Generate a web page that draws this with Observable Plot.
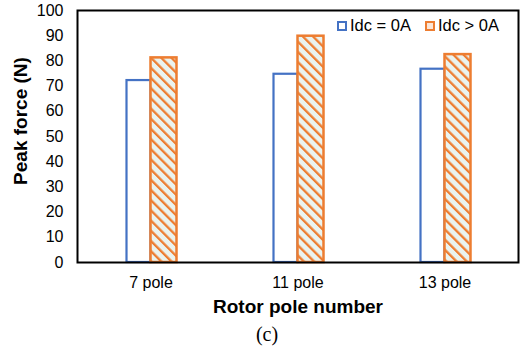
<!DOCTYPE html>
<html>
<head>
<meta charset="utf-8">
<script src="https://cdn.jsdelivr.net/npm/d3@7"></script>
<script src="https://cdn.jsdelivr.net/npm/@observablehq/plot@0.6"></script>
<style>
  html, body { margin: 0; padding: 0; background: #fff; }
  #wrap { position: relative; width: 524px; height: 346px; font-family: "Liberation Sans", Arial, sans-serif; }
  #legend { position: absolute; top: 16px; left: 337px; display: flex; align-items: center; font-size: 16.5px; color: #000; white-space: nowrap; }
  #legend .item { display: flex; align-items: center; margin-right: 14px; }
  #legend .sw { flex: none; box-sizing: border-box; width: 10px; height: 10px; margin-right: 3px; }
  #ylabel { position: absolute; left: 21px; top: 121px; transform: translate(-50%, -50%) rotate(-90deg); font-weight: bold; font-size: 19px; white-space: nowrap; color: #000; }
  #caption { position: absolute; top: 323px; left: 0; width: 534px; text-align: center; font-family: "Liberation Serif", "Times New Roman", serif; font-size: 20px; }
  svg text { fill: #000; }
  g[aria-label="x-axis label"] text { font-weight: bold; font-size: 19px; }
</style>
</head>
<body>
<div id="wrap">
  <div id="chart"></div>
  <div id="ylabel"></div>
  <div id="legend"></div>
  <div id="caption">(c)</div>
</div>
<script>
const categories = ["7 pole", "11 pole", "13 pole"];
const seriesNames = ["Idc = 0A", "Idc > 0A"];
const idcZero = [72.2, 74.7, 76.7];
const idcPositive = [81.2, 89.8, 82.5];
const yTicks = [0, 10, 20, 30, 40, 50, 60, 70, 80, 90, 100];
const xTitle = "Rotor pole number";
const yTitle = "Peak force (N)";

const blue = "#4472C4";
const orange = "#ED7D31";

const zeroData = categories.map((c, i) => ({pole: c, value: idcZero[i]}));
const posData = categories.map((c, i) => ({pole: c, value: idcPositive[i]}));

const chart = Plot.plot({
  width: 524,
  height: 320,
  marginTop: 10,
  marginBottom: 58,
  marginLeft: 77,
  marginRight: 6,
  style: {fontFamily: "'Liberation Sans', Arial, sans-serif", fontSize: "16px", background: "#fff"},
  x: {domain: categories, padding: 0, label: xTitle, labelAnchor: "center", labelOffset: 50, tickSize: 0, tickPadding: 14},
  y: {domain: [0, 100], ticks: yTicks, label: null, tickSize: 0, tickPadding: 14},
  marks: [
    Plot.barY(zeroData, {x: "pole", y: "value", fill: "white", stroke: blue, strokeWidth: 2.2, insetLeft: 49.5, insetRight: 73.5}),
    Plot.barY(posData, {x: "pole", y: "value", fill: "url(#hatch)", stroke: orange, strokeWidth: 2.5, insetLeft: 73.5, insetRight: 47.5}),
    Plot.frame({stroke: "#000", strokeWidth: 2})
  ]
});

// strip any arrow Plot may append to the axis label
chart.querySelectorAll('g[aria-label="x-axis label"] text').forEach(t => { t.textContent = xTitle; });

// hatch pattern
const svgNS = "http://www.w3.org/2000/svg";
const defs = document.createElementNS(svgNS, "defs");
defs.innerHTML = `
  <pattern id="hatch" patternUnits="userSpaceOnUse" width="7.2" height="7.2" patternTransform="rotate(-45)">
    <rect width="7.2" height="7.2" fill="#eaf3ef"></rect>
    <rect x="0" y="0" width="2.3" height="7.2" fill="${orange}"></rect>
  </pattern>`;
chart.insertBefore(defs, chart.firstChild);
document.getElementById("chart").appendChild(chart);
document.getElementById("ylabel").textContent = yTitle;

// legend
const legend = document.getElementById("legend");
const colors = [blue, orange];
seriesNames.forEach((name, i) => {
  const item = document.createElement("div");
  item.className = "item";
  const sw = document.createElement("div");
  sw.className = "sw";
  sw.style.border = `2px solid ${colors[i]}`;
  sw.style.background = i === 0 ? "#fff" : "#fbe5d6";
  const t = document.createElement("span");
  t.textContent = name;
  item.appendChild(sw);
  item.appendChild(t);
  legend.appendChild(item);
});
</script>
</body>
</html>
